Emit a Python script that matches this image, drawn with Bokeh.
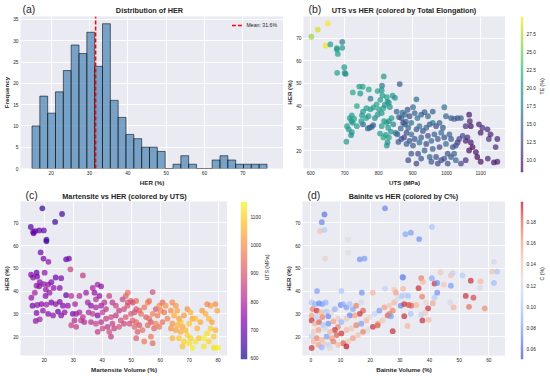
import numpy as np
from bokeh.plotting import figure
from bokeh.models import (Range1d, FixedTicker, PrintfTickFormatter, LinearAxis,
                          LinearColorMapper, Label, ColumnDataSource)
from bokeh.layouts import row, column
from bokeh.palettes import Viridis256, Plasma256
from bokeh.embed import file_html
from bokeh.resources import INLINE

# ---------------- data ----------------
# (a) histogram of HER
her_counts = [10, 17, 13, 18, 23, 29, 27, 32, 24, 34, 16, 12, 8, 7, 5, 5, 4, 0, 1, 3,
              1, 0, 0, 2, 3, 2, 1, 1, 1, 1]
her_bin_lo, her_bin_hi = 15.0, 76.3
her_mean = 31.6

# (b) UTS (MPa), HER (%), TE (%)
b_points = [
    (602, 70.7, 26.5), (621, 73.9, 28.5), (650, 76.6, 29.8), (644, 66.7, 29.5),
    (658, 67.3, 20.5), (677, 65.7, 20.5), (677, 65.0, 20.0), (680, 63.1, 20.5),
    (693, 68.4, 17.0), (693, 65.8, 19.5), (699, 57.2, 19.5), (700, 54.6, 18.5),
    (703, 54.2, 19.0), (678, 54.7, 20.5), (705, 24.1, 20.0), (815, 53.1, 20.0),
    (862, 49.7, 14.0), (724, 46.0, 21.5), (743, 48.6, 20.5), (753, 48.5, 20.5),
    (771, 47.3, 21.0), (746, 45.5, 20.0), (797, 46.6, 21.0), (809, 47.0, 19.5),
    (810, 49.0, 17.0), (811, 44.7, 20.0), (776, 43.2, 17.0), (736, 39.9, 21.0),
    (805, 42.7, 20.0), (824, 43.9, 20.5), (841, 44.5, 19.5), (848, 43.6, 19.0),
    (830, 41.4, 19.5), (794, 40.7, 21.0), (785, 39.3, 20.5), (776, 38.5, 20.0),
    (764, 39.0, 20.5), (754, 37.5, 20.0), (751, 35.8, 19.5), (721, 35.8, 20.5),
    (715, 34.6, 20.0), (720, 33.2, 19.5), (724, 32.5, 20.0), (728, 34.3, 21.0),
    (736, 31.0, 20.0), (754, 31.8, 15.0), (773, 30.3, 14.0), (780, 30.7, 14.5),
    (784, 31.5, 15.0), (749, 33.2, 20.0), (763, 34.6, 21.0), (770, 35.4, 20.0),
    (789, 34.6, 19.0), (797, 36.1, 20.0), (809, 36.8, 19.5), (801, 38.5, 20.0),
    (814, 39.0, 21.0), (818, 40.4, 19.0), (826, 41.9, 20.0), (833, 39.5, 19.0),
    (816, 33.2, 20.0), (823, 32.5, 21.0), (830, 33.2, 19.0), (838, 34.6, 20.0),
    (843, 31.8, 18.0), (828, 30.3, 20.0), (836, 28.6, 19.5), (821, 27.1, 20.0),
    (830, 26.0, 20.5), (826, 23.8, 19.0), (814, 26.0, 21.0), (804, 27.7, 20.0),
    (809, 31.0, 20.5), (855, 27.4, 14.0), (867, 34.6, 15.0), (872, 32.5, 12.5),
    (867, 25.3, 13.5), (707, 31.0, 20.0), (712, 29.6, 19.5), (721, 28.3, 20.0),
    (719, 27.0, 19.0), (768, 30.0, 16.0), (824, 22.4, 19.5), (853, 37.5, 15.0),
    (860, 35.0, 14.0), (865, 30.0, 15.5), (850, 28.0, 16.0), (858, 24.0, 14.0),
    (875, 26.0, 13.0), (880, 33.0, 14.5), (870, 37.0, 15.5),
    (911, 42.9, 16.0), (901, 39.4, 15.5), (885, 38.3, 14.0), (877, 36.1, 16.0),
    (891, 35.4, 13.0), (906, 36.8, 15.0), (914, 34.6, 16.5), (925, 36.1, 15.0),
    (935, 37.2, 14.0), (959, 37.5, 14.5), (945, 35.4, 16.0), (993, 39.4, 16.5),
    (998, 35.4, 15.0), (1013, 34.6, 14.0), (1022, 34.2, 15.5), (1032, 34.6, 13.0),
    (1042, 34.6, 14.5), (1066, 36.1, 9.5), (1068, 33.2, 10.5), (1056, 31.0, 11.0),
    (1071, 31.0, 9.0), (1095, 31.8, 10.0), (1105, 30.3, 11.0), (1120, 29.6, 10.5),
    (1100, 28.1, 9.5), (1124, 25.3, 11.5), (1149, 25.3, 10.0), (1129, 27.4, 10.0),
    (1144, 21.7, 11.0), (1149, 15.2, 10.0), (1139, 14.9, 9.5), (1121, 16.6, 10.5),
    (1100, 15.2, 9.0), (1090, 17.3, 8.5), (1086, 19.5, 9.0), (1076, 21.7, 8.5),
    (1071, 23.8, 9.5), (1061, 26.0, 11.0), (1056, 24.5, 10.0), (1066, 20.2, 9.0),
    (1047, 26.7, 12.5), (1037, 25.3, 13.0), (1032, 23.8, 12.0), (1027, 22.4, 13.5),
    (1018, 21.7, 14.0), (1022, 18.8, 15.0), (1013, 17.3, 14.5), (1003, 18.8, 13.5),
    (993, 16.6, 14.0), (984, 15.9, 13.0), (1027, 15.9, 15.5), (1042, 14.4, 12.5),
    (1056, 15.9, 11.0), (1003, 14.4, 13.0), (877, 31.8, 15.0), (887, 30.3, 14.5),
    (896, 32.5, 16.0), (882, 28.1, 13.0), (896, 27.4, 15.5), (911, 29.6, 14.0),
    (920, 31.0, 16.0), (930, 28.9, 13.5), (940, 30.3, 15.0), (950, 31.8, 14.0),
    (959, 32.5, 16.5), (969, 31.0, 13.0), (979, 32.5, 15.0), (989, 30.3, 14.0),
    (984, 28.1, 16.0), (964, 27.4, 14.5), (945, 26.7, 13.0), (925, 26.0, 15.0),
    (906, 25.3, 14.0), (891, 24.5, 13.5), (882, 23.1, 15.0), (901, 22.4, 14.0),
    (920, 23.8, 16.0), (940, 23.1, 13.0), (955, 24.5, 15.5), (974, 25.3, 14.0),
    (993, 26.0, 13.5), (1008, 27.4, 15.0), (1013, 25.3, 14.0), (998, 23.1, 15.5),
    (979, 21.7, 13.0), (959, 20.9, 14.5), (935, 20.2, 15.0), (916, 18.8, 13.0),
    (896, 18.8, 14.0), (950, 17.3, 15.0), (969, 17.3, 13.5), (925, 16.6, 14.0),
    (887, 15.9, 13.0), (911, 14.4, 12.5), (955, 15.2, 14.0), (974, 14.4, 13.0),
]
te_lim = [8.2, 29.9]

# (c) Martensite (%), HER (%), UTS (MPa)
c_points = [
    (19.3, 76.4, 645), (26.1, 73.9, 660), (23.7, 70.4, 640), (15.3, 68.2, 680),
    (16.1, 66.0, 700), (16.3, 65.4, 690), (16.8, 66.4, 700), (18.2, 66.7, 690),
    (19.8, 66.7, 700), (20.7, 62.6, 660), (20.7, 61.9, 650), (18.7, 57.0, 720),
    (19.7, 54.3, 720), (21.4, 52.9, 760), (27.5, 54.0, 700), (28.5, 54.3, 720),
    (29.0, 49.6, 860), (17.3, 48.1, 700), (17.5, 46.4, 720), (16.1, 46.0, 760),
    (15.4, 47.2, 740), (20.1, 48.1, 760), (18.4, 44.0, 750), (19.8, 43.1, 760),
    (18.2, 42.1, 740), (21.3, 42.9, 770), (20.5, 40.7, 760), (22.4, 43.9, 730),
    (23.9, 46.0, 700), (25.8, 45.7, 730), (25.3, 41.4, 750), (23.2, 41.4, 760),
    (21.8, 39.3, 770), (20.4, 37.9, 740), (15.5, 37.1, 770), (16.7, 39.3, 790),
    (17.3, 42.4, 770), (15.9, 33.6, 720), (17.5, 33.9, 760), (19.0, 34.3, 740),
    (20.7, 34.1, 780), (22.4, 35.0, 720), (23.9, 34.3, 760), (25.3, 35.3, 740),
    (26.4, 33.6, 750), (27.5, 38.2, 700), (29.3, 37.9, 830), (30.6, 34.3, 790),
    (28.1, 33.6, 760), (32.1, 37.9, 820), (33.3, 46.9, 850), (17.3, 30.4, 730),
    (19.5, 31.4, 760), (21.3, 30.0, 740), (23.0, 29.3, 760), (24.7, 31.0, 700),
    (25.8, 29.3, 740), (27.0, 30.7, 760), (18.4, 27.6, 790), (17.0, 26.9, 760),
    (29.8, 30.0, 720), (31.0, 30.0, 780), (32.1, 30.7, 800), (33.3, 28.6, 830),
    (30.4, 27.1, 810), (29.3, 25.0, 860), (32.7, 27.1, 840), (33.8, 26.4, 820),
    (31.0, 24.3, 850), (34.4, 39.3, 780), (36.7, 41.4, 800), (37.3, 39.3, 760),
    (37.8, 36.4, 820), (39.0, 37.9, 760), (38.4, 42.9, 790), (39.6, 42.1, 750),
    (40.7, 35.0, 830), (39.6, 33.6, 780), (37.8, 32.9, 800), (36.1, 33.6, 760),
    (35.0, 35.0, 790), (35.3, 30.7, 810), (36.7, 30.0, 840), (38.4, 29.3, 740),
    (40.1, 30.7, 850), (41.3, 32.1, 830), (42.4, 37.9, 860), (43.5, 35.0, 840),
    (44.7, 33.6, 870), (45.8, 31.4, 850), (47.5, 32.1, 880), (48.7, 33.6, 900),
    (48.1, 37.9, 920), (47.0, 36.4, 870), (36.1, 26.4, 830), (37.8, 25.7, 860),
    (39.6, 26.4, 820), (41.3, 27.9, 850), (43.0, 28.6, 870), (44.7, 29.3, 840),
    (46.4, 27.1, 880), (48.1, 28.6, 900), (43.5, 25.7, 860), (41.8, 24.3, 830),
    (40.1, 23.6, 870), (38.4, 22.1, 850), (42.4, 22.1, 880), (44.1, 23.6, 860),
    (45.8, 24.3, 890), (47.5, 25.7, 870), (43.0, 20.0, 850), (48.8, 39.3, 950),
    (49.9, 35.7, 920), (50.5, 35.0, 880), (48.8, 35.0, 900), (51.7, 35.7, 940),
    (51.7, 32.1, 900), (52.8, 31.4, 930), (51.1, 30.7, 880), (53.4, 30.0, 950),
    (49.9, 30.0, 900), (54.5, 32.9, 960), (55.7, 35.0, 980), (56.2, 35.7, 960),
    (57.4, 39.6, 890), (50.5, 27.1, 920), (51.7, 26.4, 940), (52.8, 25.0, 900),
    (49.4, 25.7, 880), (51.1, 24.3, 930), (52.2, 22.1, 910), (53.9, 22.9, 950),
    (51.7, 19.3, 920), (54.5, 17.9, 970), (57.4, 17.1, 940), (56.8, 20.0, 960),
    (55.1, 28.6, 920), (56.2, 27.9, 950), (57.4, 30.0, 980), (58.5, 32.1, 900),
    (59.1, 29.3, 970), (59.7, 33.6, 1000), (60.8, 35.0, 940), (60.2, 31.4, 990),
    (61.4, 30.7, 960), (61.9, 33.6, 1010), (62.5, 27.9, 980), (60.8, 26.4, 950),
    (58.5, 25.7, 990), (59.7, 24.3, 960), (57.9, 23.6, 930), (56.8, 26.4, 900),
    (55.7, 25.0, 940), (64.2, 35.0, 990), (65.4, 33.6, 1020), (65.9, 31.4, 1040),
    (63.7, 31.4, 1000), (64.8, 29.3, 1050), (66.5, 27.9, 1030), (64.2, 25.7, 1010),
    (65.9, 25.0, 1060), (67.7, 24.3, 1040), (67.1, 26.4, 1080), (68.2, 29.3, 1020),
    (69.4, 32.1, 1000), (70.5, 30.7, 1060), (71.1, 27.9, 1040), (70.0, 25.7, 1090),
    (68.8, 22.9, 1070), (67.1, 22.1, 1050), (65.4, 22.9, 1030), (63.7, 23.6, 1010),
    (64.2, 19.3, 1060), (66.5, 19.3, 1090), (68.2, 17.9, 1110), (70.5, 19.3, 1100),
    (72.2, 17.9, 1130), (70.0, 17.1, 1120), (67.7, 15.7, 1080), (71.1, 15.0, 1140),
    (73.4, 19.3, 1090), (72.8, 23.6, 1060), (73.9, 26.4, 1040), (72.2, 27.9, 1080),
    (74.5, 31.4, 1020), (75.7, 30.0, 1050), (76.8, 27.9, 1070), (77.9, 26.4, 1030),
    (77.4, 23.6, 1100), (76.2, 21.4, 1120), (75.1, 19.3, 1140), (76.8, 17.9, 1110),
    (78.5, 20.0, 1090), (79.1, 22.9, 1060), (79.7, 31.4, 1040), (79.1, 34.3, 1000),
    (77.4, 33.6, 1030), (76.2, 34.3, 990), (79.1, 15.0, 1150), (75.1, 15.7, 1130),
    (69.4, 20.7, 1100), (80.0, 15.2, 1140), (78.5, 15.2, 1120),
]
uts_lim = [596, 1154]

# (d) Bainite (%), HER (%), C (%)
d_points = [
    (4.6, 73.7, 0.065), (3.7, 70.3, 0.070), (4.6, 66.9, 0.105), (3.1, 66.4, 0.145),
    (25.0, 76.4, 0.070), (12.6, 62.6, 0.125), (12.6, 56.9, 0.125), (4.8, 54.3, 0.135),
    (16.5, 54.0, 0.075), (18.1, 54.3, 0.080), (2.1, 40.0, 0.080), (10.3, 40.0, 0.100),
    (17.2, 39.3, 0.075), (20.9, 39.3, 0.150), (25.0, 41.1, 0.110), (28.1, 40.7, 0.140),
    (28.7, 39.3, 0.160), (30.9, 46.1, 0.075), (0.3, 35.0, 0.100), (1.4, 34.3, 0.090),
    (2.8, 34.6, 0.070), (3.9, 34.3, 0.080), (5.0, 35.0, 0.090), (0.6, 32.1, 0.170),
    (2.0, 31.4, 0.190), (3.5, 30.7, 0.150), (5.3, 31.0, 0.100), (0.3, 29.3, 0.160),
    (2.0, 28.6, 0.110), (3.9, 28.6, 0.170), (5.9, 29.0, 0.070), (7.0, 30.7, 0.130),
    (8.1, 32.1, 0.090), (0.3, 27.1, 0.190), (1.4, 25.7, 0.150), (2.8, 26.4, 0.180),
    (4.2, 25.0, 0.100), (5.9, 25.7, 0.075), (7.6, 26.7, 0.160), (9.2, 27.9, 0.140),
    (10.1, 33.9, 0.070), (10.9, 34.3, 0.090), (12.0, 32.9, 0.080), (13.1, 34.3, 0.100),
    (14.2, 32.1, 0.085), (15.3, 33.6, 0.170), (17.0, 35.0, 0.120), (17.6, 31.4, 0.180),
    (16.5, 30.0, 0.190), (14.8, 29.3, 0.160), (13.1, 29.3, 0.070), (12.0, 27.9, 0.140),
    (10.3, 26.4, 0.090), (9.2, 24.3, 0.170), (8.1, 22.9, 0.190), (6.5, 22.1, 0.150),
    (4.8, 23.6, 0.120), (2.6, 22.9, 0.160), (0.9, 22.1, 0.140), (0.3, 20.0, 0.110),
    (2.0, 19.3, 0.170), (3.7, 18.6, 0.150), (5.3, 20.0, 0.080), (7.0, 19.3, 0.160),
    (8.7, 20.7, 0.180), (10.3, 21.4, 0.190), (12.0, 22.9, 0.150), (13.7, 23.6, 0.140),
    (15.3, 25.0, 0.170), (17.0, 25.7, 0.080), (18.7, 27.1, 0.150), (19.8, 28.6, 0.130),
    (21.5, 30.0, 0.110), (23.1, 31.4, 0.080), (24.8, 32.9, 0.160), (26.5, 33.6, 0.140),
    (28.1, 35.0, 0.150), (29.2, 36.4, 0.120), (30.3, 33.6, 0.070), (27.6, 31.4, 0.170),
    (25.9, 29.3, 0.180), (24.2, 27.1, 0.140), (22.6, 25.7, 0.160), (20.9, 24.3, 0.190),
    (19.2, 22.9, 0.120), (17.6, 22.1, 0.170), (15.9, 20.7, 0.145), (14.2, 19.3, 0.160),
    (12.6, 17.9, 0.140), (10.9, 17.1, 0.180), (9.2, 16.4, 0.150), (7.6, 17.9, 0.170),
    (5.9, 16.4, 0.110), (4.2, 17.1, 0.140), (2.6, 16.4, 0.160), (0.9, 17.9, 0.150),
    (0.3, 15.0, 0.190), (3.7, 15.3, 0.090), (6.5, 15.0, 0.130), (12.0, 15.7, 0.195),
    (40.8, 68.2, 0.100), (31.9, 65.0, 0.085), (33.7, 65.7, 0.080), (36.5, 62.9, 0.075),
    (31.1, 46.0, 0.075), (37.2, 45.7, 0.170), (40.8, 45.7, 0.085), (37.8, 44.1, 0.150),
    (41.7, 43.3, 0.190), (42.6, 43.6, 0.075), (43.7, 48.3, 0.140), (47.2, 46.9, 0.145),
    (47.8, 47.9, 0.110), (51.1, 46.9, 0.105), (44.8, 42.9, 0.140), (47.2, 42.4, 0.080),
    (53.9, 44.6, 0.190), (57.2, 44.3, 0.150), (57.0, 41.4, 0.120), (61.7, 52.9, 0.120),
    (61.1, 48.6, 0.145), (62.8, 48.6, 0.100), (61.7, 43.6, 0.095), (31.1, 41.0, 0.150),
    (36.3, 41.3, 0.190), (42.6, 39.3, 0.075), (30.6, 37.9, 0.100), (31.7, 38.2, 0.110),
    (32.8, 37.9, 0.100), (37.5, 37.6, 0.170), (41.7, 37.1, 0.105), (38.9, 35.0, 0.130),
    (31.5, 34.3, 0.190), (33.0, 33.9, 0.185), (33.9, 33.6, 0.180), (35.6, 33.9, 0.150),
    (41.1, 34.7, 0.155), (47.0, 35.0, 0.120), (48.1, 32.9, 0.150), (52.2, 37.9, 0.190),
    (54.8, 37.1, 0.185), (53.3, 33.1, 0.175), (58.6, 32.4, 0.165), (39.5, 32.4, 0.190),
    (33.7, 30.0, 0.100), (37.2, 29.7, 0.110), (31.5, 29.0, 0.190), (32.6, 24.7, 0.150),
    (37.6, 27.1, 0.190), (39.7, 27.4, 0.150), (22.5, 24.9, 0.180), (26.5, 30.0, 0.170),
    (27.6, 22.4, 0.190), (27.0, 28.9, 0.080), (38.5, 30.5, 0.140),
]
c_lim = [0.0505, 0.199]

# ticks
her_ticks = [20, 30, 40, 50, 60, 70]
freq_ticks = [0, 5, 10, 15, 20, 25, 30, 35]
uts_ticks = [600, 700, 800, 900, 1000, 1100]
mart_ticks = [20, 30, 40, 50, 60, 70, 80]
bain_ticks = [0, 10, 20, 30, 40, 50, 60]
te_ticks = [10.0, 12.5, 15.0, 17.5, 20.0, 22.5, 25.0, 27.5]
c_ticks = [0.06, 0.08, 0.10, 0.12, 0.14, 0.16, 0.18]

# ---------------- style / layout ----------------
FONT = "Liberation Sans"
TXT = "#262626"
BG = "#EAEAF2"
HDR1, MAIN1, BOT1 = 16, 172, 16     # row 1: header + main (frame 156)
HDR2, MAIN2, BOT2 = 13, 174, 16     # row 2: header + main (frame 158)


def interp_palette(anchors, n=256):
    rgb = np.array([[int(h[i:i + 2], 16) for i in (1, 3, 5)] for h in anchors], float)
    t = np.linspace(0, 1, len(anchors))
    out = []
    for v in np.linspace(0, 1, n):
        out.append("#%02x%02x%02x" % tuple(int(round(np.interp(v, t, rgb[:, k]))) for k in range(3)))
    return out


Coolwarm256 = interp_palette(["#3b4cc0", "#6282ea", "#8db0fe", "#b8d0f9", "#dddcdc",
                              "#f5c4ad", "#f49a7b", "#de604d", "#b40426"])


def style_axis(ax, ticks, fmt=None):
    ax.ticker = FixedTicker(ticks=ticks)
    if fmt:
        ax.formatter = PrintfTickFormatter(format=fmt)
    ax.axis_line_color = None
    ax.major_tick_line_color = None
    ax.minor_tick_line_color = None
    ax.major_tick_out = 0
    ax.major_tick_in = 0
    ax.minor_tick_out = 0
    ax.minor_tick_in = 0
    ax.major_label_text_font = FONT
    ax.major_label_text_font_size = "4.8px"
    ax.major_label_text_color = TXT
    ax.major_label_standoff = 2
    ax.axis_label_text_font = FONT
    ax.axis_label_text_font_size = "6.2px"
    ax.axis_label_text_font_style = "bold"
    ax.axis_label_text_color = TXT
    ax.axis_label_standoff = 0


def base_fig(width, height, bot, xr, yr, left, right, xlabel, ylabel, xticks, yticks):
    p = figure(width=width, height=height, x_range=xr, y_range=Range1d(*yr), title=None,
               toolbar_location=None, output_backend="svg",
               min_border_left=left, min_border_right=right,
               min_border_top=0, min_border_bottom=bot,
               background_fill_color=BG, border_fill_color="white",
               outline_line_color=None)
    p.xaxis.axis_label = xlabel
    p.yaxis.axis_label = ylabel
    style_axis(p.xaxis[0], xticks)
    style_axis(p.yaxis[0], yticks)
    p.xaxis.axis_label_standoff = 1
    p.grid.grid_line_color = "white"
    p.grid.grid_line_width = 0.9
    return p


def header(width, height, xr, left, right, tag, title, tag_px, title_px, tag_y, title_y):
    h = figure(width=width, height=height, x_range=xr, y_range=Range1d(0, height), title=None,
               x_axis_location=None, y_axis_location=None,
               toolbar_location=None, output_backend="svg",
               min_border_left=left, min_border_right=right,
               min_border_top=0, min_border_bottom=0,
               background_fill_color="white", border_fill_color="white",
               outline_line_color=None)
    h.grid.visible = False
    fw = width - left - right
    ux = (xr.end - xr.start) / fw
    h.add_layout(Label(x=xr.start + title_px * ux, y=title_y, text=title,
                       text_align="center", text_baseline="middle",
                       text_font=FONT, text_font_size="7.3px", text_font_style="bold",
                       text_color=TXT))
    h.add_layout(Label(x=xr.start + tag_px * ux, y=tag_y, text=tag,
                       text_align="left", text_baseline="middle",
                       text_font=FONT, text_font_size="10.5px", text_color=TXT))
    return h


def scatter_panel(p, pts, palette, lim):
    mapper = LinearColorMapper(palette=palette, low=lim[0], high=lim[1])
    src = ColumnDataSource(dict(x=[q[0] for q in pts], y=[q[1] for q in pts],
                                c=[q[2] for q in pts]))
    p.scatter("x", "y", source=src, size=5.8,
              fill_color={"field": "c", "transform": mapper},
              fill_alpha=0.7, line_color=None)


def make_cbar(height, bot, lim, palette, ticks, fmt, label, width, left, right):
    p = figure(width=width, height=height, x_range=Range1d(0, 1), y_range=Range1d(*lim),
               title=None, x_axis_location=None, y_axis_location=None,
               toolbar_location=None, output_backend="svg",
               min_border_left=left, min_border_right=right,
               min_border_top=0, min_border_bottom=bot,
               background_fill_color="white", border_fill_color="white",
               outline_line_color=None)
    p.grid.visible = False
    grad = np.linspace(lim[0], lim[1], 256).reshape(-1, 1)
    mapper = LinearColorMapper(palette=palette, low=lim[0], high=lim[1])
    p.image(image=[grad], x=0, y=lim[0], dw=1, dh=lim[1] - lim[0],
            color_mapper=mapper, global_alpha=0.7)
    ax = LinearAxis(axis_label=label)
    style_axis(ax, ticks, fmt)
    ax.major_label_standoff = 3
    ax.axis_label_text_font_style = "normal"
    ax.axis_label_text_font_size = "5.2px"
    ax.axis_label_standoff = 3
    ax.axis_label_orientation = np.pi / 2
    p.add_layout(ax, "right")
    return p


def spacer(width, height):
    s = figure(width=width, height=height, title=None, x_axis_location=None,
               y_axis_location=None, toolbar_location=None, output_backend="svg",
               min_border=0, outline_line_color=None,
               background_fill_color="white", border_fill_color="white")
    s.grid.visible = False
    return s


# ---------------- (a) histogram ----------------
XA = Range1d(12.0, 80.6)
YA = (0, 35.7)
pa = base_fig(283, MAIN1, BOT1, XA, YA, 20, 0, "HER (%)", "Frequency", her_ticks, freq_ticks)
edges = np.linspace(her_bin_lo, her_bin_hi, len(her_counts) + 1)
pa.quad(left=edges[:-1], right=edges[1:], top=her_counts, bottom=0,
        fill_color="#4682B4", fill_alpha=0.7, line_color="black", line_alpha=0.7,
        line_width=0.8)
pa.line(x=[her_mean, her_mean], y=[YA[0], YA[1]], line_color="red", line_dash="4 2",
        line_width=1.5, legend_label="Mean: %.1f%%" % her_mean)
pa.legend.location = "top_right"
pa.legend.background_fill_alpha = 0
pa.legend.border_line_alpha = 0
pa.legend.label_text_font = FONT
pa.legend.label_text_font_size = "5.2px"
pa.legend.label_text_color = TXT
pa.legend.glyph_width = 12
pa.legend.glyph_height = 6
pa.legend.label_height = 6
pa.legend.label_standoff = 3
pa.legend.padding = 2
pa.legend.margin = 4
ha = header(283, HDR1, XA, 20, 0, "(a)", "Distribution of HER", 2, 129, 7.5, 6)

# ---------------- (b) ----------------
XB = Range1d(579, 1173)
pb = base_fig(222, MAIN1, BOT1, XB, (12.2, 79.7), 18, 0, "UTS (MPa)", "HER (%)", uts_ticks, her_ticks)
scatter_panel(pb, b_points, Viridis256, te_lim)
hb = header(222, HDR1, XB, 18, 0, "(b)", "UTS vs HER (colored by Total Elongation)", 5, 101.5, 7.5, 6)
cb_b = make_cbar(MAIN1, BOT1, te_lim, Viridis256, te_ticks, "%.1f", "TE (%)", 45, 15, 23)

# ---------------- (c) ----------------
XC = Range1d(11.75, 83.25)
HER2 = (11.7, 79.4)
pc = base_fig(227, MAIN2, BOT2, XC, HER2, 18, 0, "Martensite Volume (%)", "HER (%)", mart_ticks, her_ticks)
scatter_panel(pc, c_points, Plasma256, uts_lim)
hc = header(227, HDR2, XC, 18, 0, "(c)", "Martensite vs HER (colored by UTS)", 5, 105, 6.5, 5.3)
cb_c = make_cbar(MAIN2, BOT2, uts_lim, Plasma256, uts_ticks, "%d", "UTS (MPa)", 55, 13, 35)

# ---------------- (d) ----------------
XD = Range1d(-2.8, 65.6)
pd_ = base_fig(223, MAIN2, BOT2, XD, HER2, 18, 0, "Bainite Volume (%)", "HER (%)", bain_ticks, her_ticks)
scatter_panel(pd_, d_points, Coolwarm256, c_lim)
hd = header(223, HDR2, XD, 18, 0, "(d)", "Bainite vs HER (colored by C%)", 5, 102, 6.5, 5.3)
cb_d = make_cbar(MAIN2, BOT2, c_lim, Coolwarm256, c_ticks, "%.2f", "C (%)", 45, 15, 23)

layout = column(
    row(column(ha, pa), column(hb, pb), column(spacer(45, HDR1), cb_b)),
    row(column(hc, pc), column(spacer(55, HDR2), cb_c), column(hd, pd_), column(spacer(45, HDR2), cb_d)),
)
open("out.html", "w").write(file_html(layout, INLINE))
